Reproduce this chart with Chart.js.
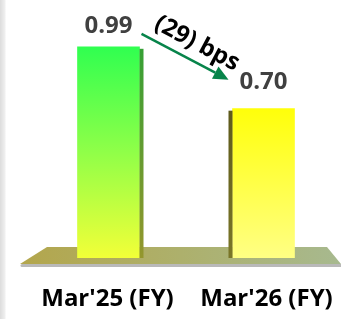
<!DOCTYPE html>
<html>
<head>
<meta charset="utf-8">
<script src="https://cdn.jsdelivr.net/npm/chart.js@4.4.1/dist/chart.umd.min.js"></script>
<style>
  html, body { margin: 0; padding: 0; }
  body {
    width: 341px; height: 319px; overflow: hidden;
    background: linear-gradient(to right, #dcdcdc 0px, #f0f0f0 5px, #ffffff 6px);
  }
  #wrap { position: relative; width: 341px; height: 319px; }
</style>
</head>
<body>
<div id="wrap">
  <canvas id="ratioChart"></canvas>
</div>
<script>
const categories = ["Mar'25 (FY)", "Mar'26 (FY)"];
const values = [0.99, 0.70];
const valueLabels = ['0.99', '0.70'];
const changeLabel = '(29) bps';

// top / bottom colours of each bar
const barTop = ['#30ff50', '#ffff0a'];
const barBottom = ['#f2ff38', '#ffff84'];

function barFill(context) {
  const chart = context.chart;
  const area = chart.chartArea;
  if (!area) return barBottom[context.dataIndex];
  const y = chart.scales.y;
  const i = context.dataIndex;
  const g = chart.ctx.createLinearGradient(0, y.getPixelForValue(values[i]), 0, y.getPixelForValue(0));
  g.addColorStop(0, barTop[i]);
  if (i === 0) g.addColorStop(0.5, '#90ff48');
  g.addColorStop(1, barBottom[i]);
  return g;
}

// floor slab behind the bars
const floorPlugin = {
  id: 'floor',
  beforeDatasetsDraw(chart) {
    const ctx = chart.ctx;
    const a = chart.chartArea;
    const z = chart.scales.y.getPixelForValue(0);
    const l = a.left - 11, r = chart.width;
    ctx.save();
    // shadow
    ctx.fillStyle = '#b9b9b9';
    ctx.beginPath();
    ctx.moveTo(l + 2, z + 6);
    ctx.lineTo(r, z + 6);
    ctx.lineTo(r, z + 9);
    ctx.lineTo(l + 2, z + 9);
    ctx.arc(l + 2, z + 7.5, 1.5, Math.PI / 2, Math.PI * 1.5);
    ctx.fill();
    const g = ctx.createLinearGradient(l, 0, r, 0);
    g.addColorStop(0, '#b3a64c');
    g.addColorStop(0.5, '#adb06c');
    g.addColorStop(1, '#a7b98f');
    ctx.fillStyle = g;
    ctx.beginPath();
    ctx.moveTo(l + 27, z - 11);
    ctx.lineTo(r - 14, z - 11);
    ctx.lineTo(r, z + 6);
    ctx.lineTo(l, z + 6);
    ctx.closePath();
    ctx.fill();
    ctx.restore();
  }
};

// side faces, value labels, category labels and the change arrow
const decoPlugin = {
  id: 'deco',
  afterDatasetsDraw(chart) {
    const ctx = chart.ctx;
    const bars = chart.getDatasetMeta(0).data;
    const xs = chart.scales.x;
    const side = 4;
    ctx.save();
    bars.forEach((b, i) => {
      const half = b.width / 2;
      const sx = i === 0 ? b.x + half : b.x - half - side;
      const g = ctx.createLinearGradient(0, b.y, 0, b.base);
      g.addColorStop(0, i === 0 ? '#35a035' : '#5e5a1c');
      g.addColorStop(1, i === 0 ? '#94962c' : '#7a7628');
      ctx.fillStyle = g;
      ctx.fillRect(sx, b.y + 2, side, b.base - b.y - 2);
    });

    ctx.fillStyle = '#404040';
    ctx.font = 'bold 24px "Open Sans"';
    ctx.textAlign = 'center';
    ctx.textBaseline = 'alphabetic';
    const gaps = [14, 20];
    bars.forEach((b, i) => {
      ctx.fillText(valueLabels[i], b.x, b.y - gaps[i]);
    });

    // category labels under the floor
    ctx.fillStyle = '#000000';
    ctx.font = 'bold 24px "Open Sans"';
    ctx.textBaseline = 'middle';
    categories.forEach((c, i) => {
      ctx.fillText(c, xs.getPixelForValue(i) - 1 + 4 * i, chart.chartArea.bottom + 41);
    });

    // arrow from first bar towards second
    const b0 = bars[0], b1 = bars[1];
    const x0 = b0.x + b0.width / 2 + 2, y0 = b0.y - 13;
    const x1 = b1.x - b1.width / 2 - 4, y1 = b1.y - 29;
    const ang = Math.atan2(y1 - y0, x1 - x0);
    const head = 15;
    ctx.strokeStyle = '#07844a';
    ctx.fillStyle = '#07844a';
    ctx.lineWidth = 2.5;
    ctx.beginPath();
    ctx.moveTo(x0, y0);
    ctx.lineTo(x1 - head * Math.cos(ang), y1 - head * Math.sin(ang));
    ctx.stroke();
    ctx.beginPath();
    ctx.moveTo(x1, y1);
    ctx.lineTo(x1 - head * Math.cos(ang) + 7 * Math.sin(ang), y1 - head * Math.sin(ang) - 7 * Math.cos(ang));
    ctx.lineTo(x1 - head * Math.cos(ang) - 7 * Math.sin(ang), y1 - head * Math.sin(ang) + 7 * Math.cos(ang));
    ctx.closePath();
    ctx.fill();

    // change text, above the arrow
    const mx = (x0 + x1) / 2 + 15 * Math.sin(ang) + 5;
    const my = (y0 + y1) / 2 - 15 * Math.cos(ang);
    ctx.translate(mx, my);
    ctx.rotate(ang);
    ctx.fillStyle = '#000000';
    ctx.font = 'bold 24px "Open Sans"';
    ctx.textBaseline = 'middle';
    ctx.fillText(changeLabel, 0, 0);
    ctx.restore();
  }
};

new Chart(document.getElementById('ratioChart'), {
  type: 'bar',
  data: {
    labels: categories,
    datasets: [{
      data: values,
      backgroundColor: barFill,
      borderWidth: 0,
      barThickness: 62
    }]
  },
  options: {
    responsive: true,
    maintainAspectRatio: false,
    animation: false,
    layout: { padding: { left: 31, right: -4, top: 2, bottom: 61 } },
    plugins: {
      legend: { display: false },
      tooltip: { enabled: false }
    },
    scales: {
      x: { display: false },
      y: {
        display: false,
        min: 0,
        max: 1.2
      }
    }
  },
  plugins: [floorPlugin, decoPlugin]
});
</script>
</body>
</html>
